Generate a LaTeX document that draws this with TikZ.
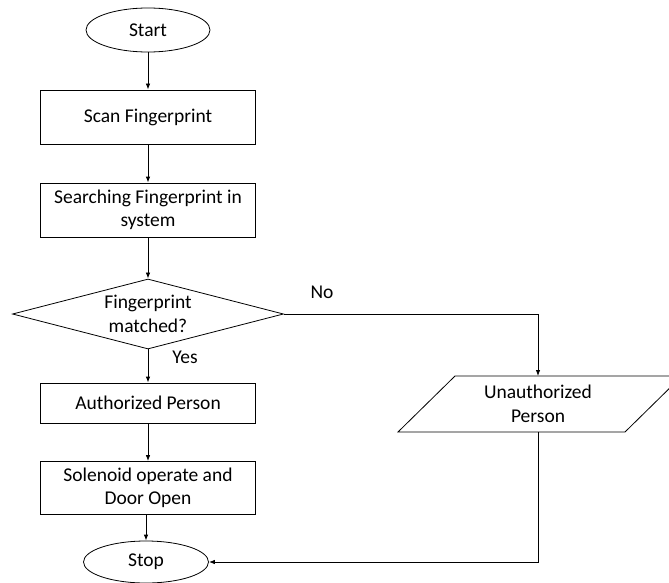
\documentclass[tikz,border=0pt]{standalone}
\usepackage{fontspec}
\setmainfont{Carlito}
\usetikzlibrary{shapes.geometric,arrows.meta}
\begin{document}
\begin{tikzpicture}[x=1pt,y=-1pt,
  every node/.style={font=\fontsize{19.5}{23.5}\selectfont, inner sep=0pt},
  term/.style={draw, ellipse, line width=0.8pt, minimum width=124pt, minimum height=44pt},
  procbox/.style={draw, rectangle, line width=0.8pt, minimum width=215pt, align=center},
  decbox/.style={draw, diamond, line width=0.8pt, minimum width=271pt, minimum height=70pt},
  shapeline/.style={line width=0.8pt},
  txt/.style={align=center},
  conn/.style={line width=0.8pt, -{Latex[length=6pt,width=4.5pt]}},
  lbl/.style={font=\fontsize{19.5}{23.5}\selectfont}]
\useasboundingbox (0,0) rectangle (669,583);
\node[term] (start) at (148,30) {Start};
\node[procbox, minimum height=54pt] (scan) at (148,117) {Scan Fingerprint};
\node[procbox, minimum height=54pt] (search) at (148,210) {Searching Fingerprint in\\system};
\node[decbox] (dec) at (148,314) {};
\node[txt] (dectext) at (148,314) {Fingerprint\\matched?};
\node[procbox, minimum height=40pt] (auth) at (148,403) {Authorized Person};
\node[procbox, minimum height=53pt] (sol) at (148,488) {Solenoid operate and\\Door Open};
\node[term, minimum width=125pt, minimum height=42pt] (stop) at (146,562) {Stop};
% parallelogram (input/output)
\coordinate (pbl) at (398,432);
\coordinate (pbr) at (625,432);
\coordinate (ptr) at (682,376);
\coordinate (ptl) at (455,376);
\draw[shapeline] (pbl) -- (pbr) -- (ptr) -- (ptl) -- cycle;
\node[txt] (unauth) at (538,404) {Unauthorized\\Person};
\coordinate (ptop) at (538,376);
\coordinate (pbot) at (538,432);
\node[lbl] (no) at (322,292) {No};
\node[lbl] (yes) at (185,357) {Yes};
\draw[conn] (start) -- (scan);
\draw[conn] (scan) -- (search);
\draw[conn] (search) -- (dec);
\draw[conn] (dec) -- (auth);
\draw[conn] (auth) -- (sol);
\draw[conn] (sol.south -| stop.north) -- (stop.north);
\draw[conn] (dec.east) -| (ptop);
\draw[conn] (pbot) |- (stop.east);
\end{tikzpicture}
\end{document}
